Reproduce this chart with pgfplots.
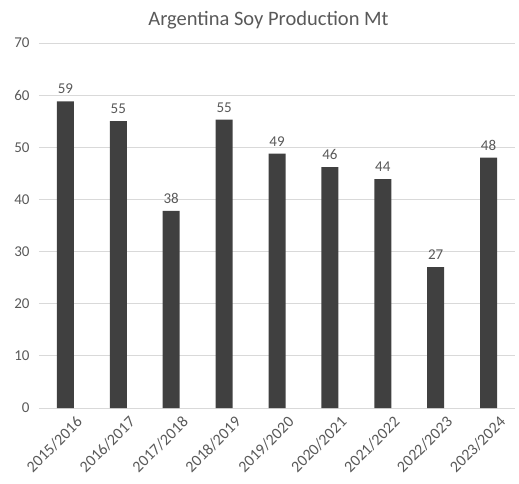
\documentclass[border=0pt]{standalone}
\usepackage{fontspec}
\setmainfont{Carlito}
\usepackage{pgfplots}
\pgfplotsset{compat=1.18}
\definecolor{barc}{HTML}{404040}
\definecolor{txt}{HTML}{595959}
\definecolor{gridc}{HTML}{D9D9D9}
\begin{document}
\begin{tikzpicture}
\useasboundingbox (-39pt,-76pt) rectangle (480pt,408pt);
\begin{axis}[
  at={(0,0)}, anchor=south west,
  scale only axis, width=476pt, height=365pt,
  xmin=-0.5, xmax=8.5, ymin=0, ymax=70,
  ytick={0,10,...,70},
  xtick={0,...,8},
  xticklabels={2015/2016,2016/2017,2017/2018,2018/2019,2019/2020,2020/2021,2021/2022,2022/2023,2023/2024},
  x tick label style={rotate=45, anchor=north east, font=\fontsize{16}{18}\selectfont, text=txt, xshift=3pt, yshift=-11pt, inner sep=1pt},
  y tick label style={font=\fontsize{15}{17}\selectfont, text=txt, xshift=-6pt},
  /pgf/number format/assume math mode=true,
  axis line style={draw=none},
  major tick length=0pt,
  xmajorgrids=false,
  ymajorgrids, grid style={draw=gridc, line width=0.9pt},
  ybar, bar width=17pt,
  nodes near coords,
  nodes near coords style={font=\fontsize{15}{17}\selectfont, text=txt, yshift=4pt, /pgf/number format/.cd, fixed, precision=0, assume math mode=true},
  clip=false,
]
\addplot[fill=barc, draw=none] coordinates {
(0,58.8) (1,55.0) (2,37.8) (3,55.3) (4,48.8) (5,46.2) (6,43.9) (7,27.0) (8,48.0)};
\end{axis}
\node[font=\fontsize{20.5}{24}\selectfont, text=txt] at (229.5pt,388pt) {Argentina Soy Production Mt};
\end{tikzpicture}
\end{document}
